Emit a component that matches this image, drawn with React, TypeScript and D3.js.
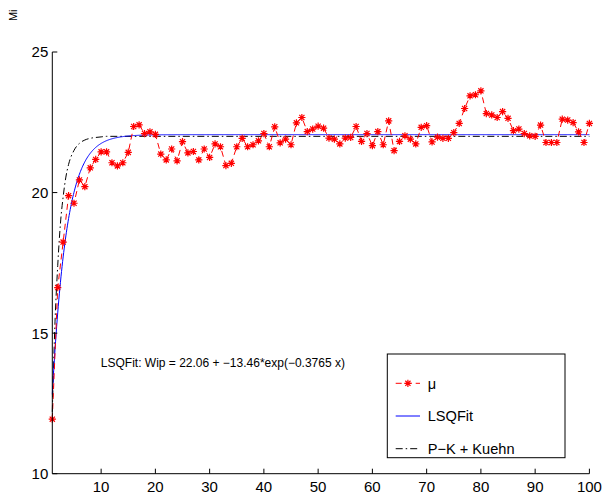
import React from 'react';
import * as d3 from 'd3';

// ---- data ----
const muValues: number[] = [
  11.94, 16.62, 18.24, 19.89, 19.62, 20.45, 20.21, 20.88, 21.18, 21.45,
  21.45, 21.06, 20.95, 21.06, 21.43, 22.35, 22.41, 22.10, 22.16, 22.07,
  21.37, 21.16, 21.55, 21.13, 21.81, 21.41, 21.46, 21.16, 21.55, 21.25,
  21.73, 21.63, 20.96, 21.04, 21.63, 21.93, 21.63, 21.70, 21.84, 22.10,
  21.63, 22.34, 21.77, 21.90, 21.70, 22.48, 22.67, 22.17, 22.26, 22.36,
  22.29, 21.94, 21.90, 21.73, 21.94, 21.96, 22.35, 21.82, 22.10, 21.67,
  22.17, 21.70, 22.55, 21.49, 21.82, 22.02, 21.90, 21.73, 22.32, 22.38,
  21.80, 21.97, 21.93, 21.93, 22.13, 22.46, 22.99, 23.44, 23.48, 23.62,
  22.81, 22.76, 22.67, 22.88, 22.64, 22.20, 22.26, 22.10, 22.02, 22.00,
  22.40, 21.78, 21.78, 21.78, 22.61, 22.58, 22.49, 22.16, 21.78, 22.46,
];
const muX: number[] = muValues.map((_, i) => i + 1);

// LSQ fit parameters (from the annotation)
const fitA = 22.06;
const fitB = -13.46;
const fitC = -0.3765;

// P-K + Kuehn curve
const pkX: number[] = [1, 1.5, 2, 2.5, 3, 3.5, 4, 5, 6, 7, 8, 9, 10, 11, 100];
const pkY: number[] = [12.2, 15.4, 17.4, 18.9, 19.85, 20.55, 21.0, 21.5, 21.75, 21.87, 21.93, 21.96, 21.98, 22.0, 22.0];

const xTicks: number[] = [10, 20, 30, 40, 50, 60, 70, 80, 90, 100];
const yTicks: number[] = [10, 15, 20, 25];
const legendLabels: string[] = ['μ', 'LSQFit', 'P−K + Kuehn'];
const annotation = 'LSQFit: Wip = 22.06 + −13.46*exp(−0.3765 x)';
const yLabel = 'Mi';

const FONT = '"Liberation Sans", Arial, Helvetica, sans-serif';

function Star({ cx, cy, r, color }: { cx: number; cy: number; r: number; color: string }) {
  const d = r * 0.72;
  const p = `M${cx - r},${cy}L${cx + r},${cy}M${cx},${cy - r}L${cx},${cy + r}` +
    `M${cx - d},${cy - d}L${cx + d},${cy + d}M${cx - d},${cy + d}L${cx + d},${cy - d}`;
  return <path d={p} stroke={color} strokeWidth={1.2} fill="none" />;
}

export default function App() {
  const W = 602, H = 495;
  const x = d3.scaleLinear().domain([1, 100]).range([52.3, 589.4]);
  const y = d3.scaleLinear().domain([10, 25]).range([473.7, 52]);

  const line = d3.line<[number, number]>().x(d => x(d[0])).y(d => y(d[1]));
  const muPath = line(muX.map((v, i) => [v, muValues[i]])) || '';

  const fitXs = d3.range(1, 100.001, 0.1);
  const fitPath = line(fitXs.map(t => [t, fitA + fitB * Math.exp(fitC * t)])) || '';

  const pkLine = d3.line<[number, number]>().x(d => x(d[0])).y(d => y(d[1])).curve(d3.curveMonotoneX);
  const pkPath = pkLine(pkX.map((v, i) => [v, pkY[i]])) || '';

  const x0 = x.range()[0];
  const y0 = y.range()[0];

  const red = '#ff0000';
  const blue = '#0000ff';
  const legX = 387.3, legY = 354, legW = 177.7, legH = 103.7;
  const entryY = [383.3, 416, 448.7];

  return (
    <svg width={W} height={H} style={{ position: 'absolute', left: 0, top: 0, background: '#fff' }}
      fontFamily={FONT}>
      <rect x={0} y={0} width={W} height={H} fill="#fff" />
      {/* curves */}
      <path d={pkPath} fill="none" stroke="#000" strokeWidth={1} strokeDasharray="7,3,1.5,3" />
      <path d={fitPath} fill="none" stroke={blue} strokeWidth={1} />
      <path d={muPath} fill="none" stroke={red} strokeWidth={1} strokeDasharray="6,4" />
      {muX.map((v, i) => (
        <Star key={i} cx={x(v)} cy={y(muValues[i])} r={3.6} color={red} />
      ))}

      {/* axes */}
      <line x1={x0} y1={y0} x2={x.range()[1]} y2={y0} stroke="#000" strokeWidth={1} />
      <line x1={x0} y1={y0} x2={x0} y2={y.range()[1]} stroke="#000" strokeWidth={1} />
      {xTicks.map(t => (
        <g key={'xt' + t}>
          <line x1={x(t)} x2={x(t)} y1={y0} y2={y0 - 5} stroke="#000" />
          <text x={x(t)} y={y0 + 18.7} fontSize={15} textAnchor="middle">{t}</text>
        </g>
      ))}
      {yTicks.map(t => (
        <g key={'yt' + t}>
          <line x1={x0} x2={x0 + 5} y1={y(t)} y2={y(t)} stroke="#000" />
          <text x={x0 - 4} y={y(t) + 5.4} fontSize={15} textAnchor="end">{t}</text>
        </g>
      ))}
      <text transform="translate(16.5,15.3) rotate(-90)" fontSize={11} textAnchor="middle">{yLabel}</text>

      {/* annotation */}
      <text x={100.8} y={366.5} fontSize={12}>{annotation}</text>

      {/* legend */}
      <rect x={legX} y={legY} width={legW} height={legH} fill="#fff" stroke="#000" strokeWidth={1} />
      <line x1={395.7} x2={420} y1={entryY[0]} y2={entryY[0]} stroke={red} strokeDasharray="6,4" />
      <Star cx={407.9} cy={entryY[0]} r={3.6} color={red} />
      <line x1={395.7} x2={420} y1={entryY[1]} y2={entryY[1]} stroke={blue} />
      <line x1={395.7} x2={420} y1={entryY[2]} y2={entryY[2]} stroke="#000" strokeDasharray="7,3,1.5,3" />
      {legendLabels.map((l, i) => (
        <text key={l} x={427.7} y={entryY[i] + 5.2} fontSize={14.6}>{l}</text>
      ))}
    </svg>
  );
}
